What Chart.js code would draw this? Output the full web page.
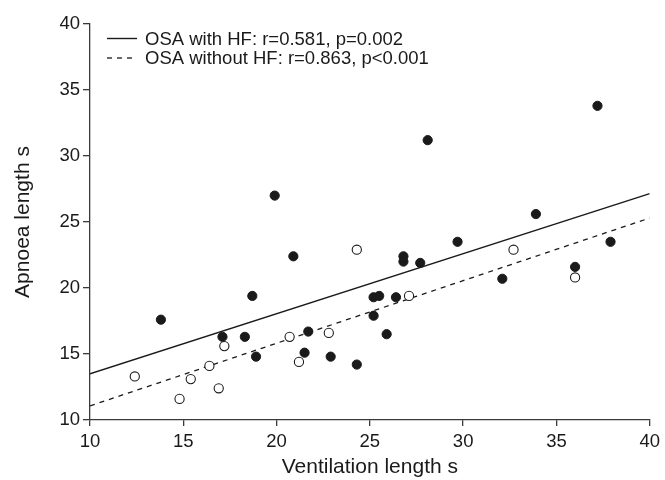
<!DOCTYPE html>
<html>
<head>
<meta charset="utf-8">
<script src="https://cdn.jsdelivr.net/npm/chart.js@4/dist/chart.umd.min.js"></script>
<style>
  html, body { margin: 0; padding: 0; background: #fff; }
  #wrap { width: 665px; height: 480px; }
</style>
</head>
<body>
<div id="wrap"><canvas id="chart_scatter"></canvas></div>
<script>
// OSA with HF (filled dots)
var withHF_x = [13.8, 17.1, 18.3, 18.7, 18.9, 19.9, 20.9, 21.5, 21.7, 22.9, 24.3, 25.2, 25.5, 25.2, 25.9, 26.4, 26.8, 26.8, 27.7, 28.1, 29.7, 32.1, 33.9, 36.0, 37.2, 37.9];
var withHF_y = [17.6, 16.3, 16.3, 19.4, 14.8, 27.0, 22.4, 15.1, 16.7, 14.8, 14.2, 19.3, 19.4, 17.9, 16.5, 19.3, 22.4, 22.0, 21.9, 31.2, 23.5, 20.7, 25.6, 21.6, 33.8, 23.5];

// OSA without HF (open circles)
var withoutHF_x = [12.4, 14.8, 15.4, 16.4, 16.9, 17.2, 20.7, 21.2, 22.8, 24.3, 27.1, 32.7, 36.0];
var withoutHF_y = [13.3, 11.6, 13.1, 14.1, 12.4, 15.6, 16.3, 14.4, 16.6, 22.9, 19.4, 22.9, 20.8];

// regression lines, end points at x = 10 and x = 40
var fitX = [10, 40];
var fitWithHF_y = [13.5, 27.15];
var fitWithoutHF_y = [11.07, 25.3];

var legendLabels = ["OSA with HF: r=0.581, p=0.002", "OSA without HF: r=0.863, p<0.001"];

var xTicks = [10, 15, 20, 25, 30, 35, 40];
var yTicks = [10, 15, 20, 25, 30, 35, 40];

var fontName = "'Liberation Sans', Arial, Helvetica, sans-serif";
var ink = "#1a1a1a";
var axisInk = "#3a3a3a";

function pairs(xs, ys) {
    var out = [];
    xs.forEach(function (x, i) { out.push({ x: x, y: ys[i] }); });
    return out;
}

// legend drawn inside the plot area, top left
var insideLegend = {
    id: "insideLegend",
    afterDatasetsDraw: function (chart) {
        var ctx = chart.ctx;
        var area = chart.chartArea;
        var rows = chart.data.datasets.filter(function (d) { return d.showLine; });
        ctx.save();
        ctx.font = "18.5px " + fontName;
        ctx.textBaseline = "middle";
        ctx.fillStyle = ink;
        rows.forEach(function (d, i) {
            var y = area.top + 14.5 + i * 19.5;
            ctx.beginPath();
            ctx.setLineDash(d.borderDash || []);
            ctx.lineWidth = d.borderWidth;
            ctx.strokeStyle = d.borderColor;
            ctx.moveTo(area.left + 17, y);
            ctx.lineTo(area.left + 47, y);
            ctx.stroke();
            ctx.setLineDash([]);
            ctx.fillText(d.label, area.left + 55, y + 1);
        });
        ctx.restore();
    }
};

var ctxScatter = document.getElementById("chart_scatter").getContext("2d");
var chartScatter = new Chart(ctxScatter, {
    type: "scatter",
    data: {
        datasets: [{
            label: "OSA with HF",
            data: pairs(withHF_x, withHF_y),
            backgroundColor: ink,
            borderColor: ink,
            borderWidth: 1,
            pointRadius: 4.6
        }, {
            label: "OSA without HF",
            data: pairs(withoutHF_x, withoutHF_y),
            backgroundColor: "#ffffff",
            borderColor: ink,
            borderWidth: 1.1,
            pointRadius: 4.6
        }, {
            label: legendLabels[0],
            data: pairs(fitX, fitWithHF_y),
            showLine: true,
            pointRadius: 0,
            borderColor: ink,
            borderWidth: 1.4,
            fill: false
        }, {
            label: legendLabels[1],
            data: pairs(fitX, fitWithoutHF_y),
            showLine: true,
            pointRadius: 0,
            borderColor: ink,
            borderWidth: 1.3,
            borderDash: [5, 5],
            fill: false
        }]
    },
    options: {
        responsive: true,
        maintainAspectRatio: false,
        animation: false,
        events: [],
        layout: { padding: { top: 24, right: 12, left: 0, bottom: 0 } },
        plugins: {
            legend: { display: false },
            tooltip: { enabled: false }
        },
        scales: {
            x: {
                type: "linear",
                min: 10,
                max: 40,
                afterFit: function (s) { s.height = 60; },
                afterBuildTicks: function (s) { s.ticks = xTicks.map(function (v) { return { value: v }; }); },
                ticks: { font: { size: 18.5, family: fontName }, color: ink, padding: 5 },
                grid: { drawOnChartArea: false, tickLength: 6, color: axisInk, lineWidth: 1.3 },
                border: { display: true, color: axisInk, width: 1.3 },
                title: { display: true, text: "Ventilation length s", font: { size: 21, family: fontName }, color: ink, padding: 0 }
            },
            y: {
                type: "linear",
                min: 10,
                max: 40,
                afterFit: function (s) { s.width = 90; },
                afterBuildTicks: function (s) { s.ticks = yTicks.map(function (v) { return { value: v }; }); },
                ticks: { font: { size: 18.5, family: fontName }, color: ink, padding: 3 },
                grid: { drawOnChartArea: false, tickLength: 7, color: axisInk, lineWidth: 1.3 },
                border: { display: true, color: axisInk, width: 1.3 },
                title: { display: true, text: "Apnoea length s", font: { size: 21, family: fontName }, color: ink, padding: { top: 11, bottom: 0 } }
            }
        }
    },
    plugins: [insideLegend]
});
</script>
</body>
</html>
